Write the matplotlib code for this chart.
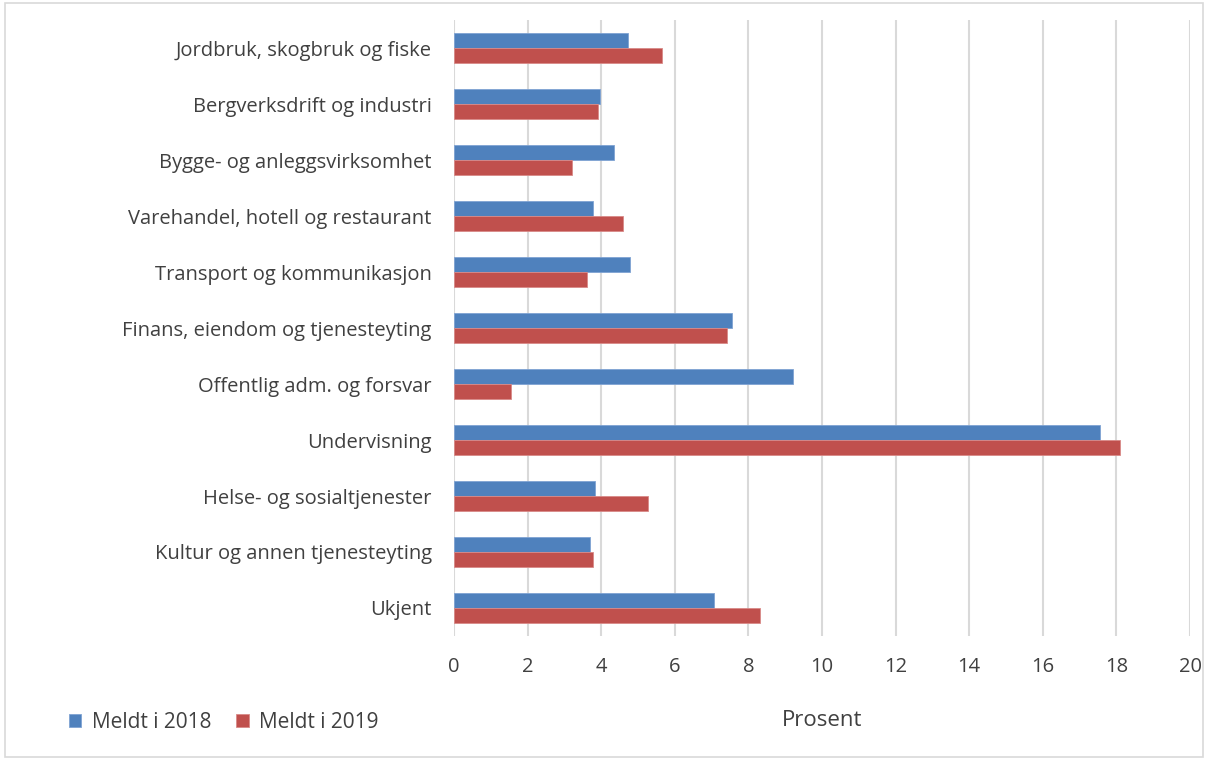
import numpy as np
import matplotlib
matplotlib.use("Agg")
import matplotlib.pyplot as plt
from matplotlib.patches import Rectangle

# kategorier (ovenfra og ned)
kategorier = ["Jordbruk, skogbruk og fiske", "Bergverksdrift og industri",
              "Bygge- og anleggsvirksomhet", "Varehandel, hotell og restaurant",
              "Transport og kommunikasjon", "Finans, eiendom og tjenesteyting",
              "Offentlig adm. og forsvar", "Undervisning",
              "Helse- og sosialtjenester", "Kultur og annen tjenesteyting", "Ukjent"]
meldt_2018 = [4.74, 3.98, 4.36, 3.77, 4.79, 7.55, 9.22, 17.56, 3.84, 3.70, 7.07]
meldt_2019 = [5.65, 3.90, 3.21, 4.60, 3.62, 7.41, 1.54, 18.11, 5.26, 3.77, 8.32]
xticks = list(range(0, 21, 2))

plt.rcParams['font.family'] = ['Open Sans', 'DejaVu Sans']

fig = plt.figure(figsize=(12.08, 7.6), dpi=100)
ax = fig.add_axes([454/1208, 1 - 636/760, 736/1208, 616/760])

y = np.arange(len(kategorier))
h = 0.26
ax.barh(y - h/2, meldt_2018, height=h, color="#4f81bd", edgecolor="#7fa3d3",
        linewidth=0.6, label="Meldt i 2018", zorder=3)
ax.barh(y + h/2, meldt_2019, height=h, color="#c0504d", edgecolor="#d98a88",
        linewidth=0.6, label="Meldt i 2019", zorder=3)

ax.set_xlim(0, 20)
ax.set_ylim(len(kategorier) - 0.5, -0.5)
ax.set_xticks(xticks)
ax.set_yticks(y)
ax.set_yticklabels(kategorier)
ax.tick_params(axis='both', length=0, labelsize=14.5, colors="#404040")
ax.tick_params(axis='x', pad=15)
ax.tick_params(axis='y', pad=16)
for s in ax.spines.values():
    s.set_visible(False)
ax.grid(axis='x', color="#d9d9d9", linewidth=1.5, zorder=0)
ax.set_xlabel("Prosent", fontsize=16, color="#404040", labelpad=24)

fig.legend(loc='center left', bbox_to_anchor=(50/1208, 1 - 722/760), ncol=2,
           frameon=False, fontsize=15, handlelength=0.6, handleheight=0.6,
           handletextpad=0.5, columnspacing=1.2, labelcolor="#404040")

# ramme rundt diagrammet
fig.patches.append(Rectangle((0.004, 0.004), 0.992, 0.992, transform=fig.transFigure,
                             fill=False, edgecolor="#d9d9d9", linewidth=1.2))

fig.savefig("out.png", dpi=100)
